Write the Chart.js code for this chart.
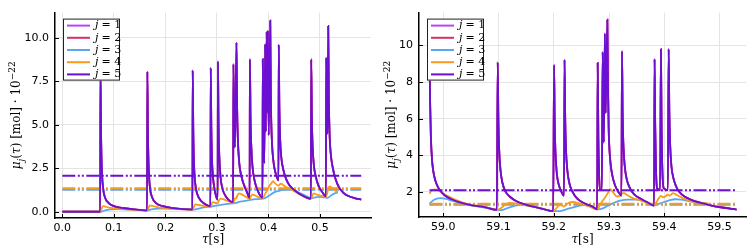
<!DOCTYPE html>
<html>
<head>
<meta charset="utf-8">
<script src="https://cdn.jsdelivr.net/npm/chart.js@4.4.1/dist/chart.umd.min.js"></script>
<style>
  body { margin: 0; background: #fff; }
  #wrap { position: relative; width: 753px; height: 250px; }
  #left { position: absolute; left: 0; top: 0; }
  #right { position: absolute; left: 375px; top: 0; }
</style>
</head>
<body>
<div id="wrap">
  <canvas id="left" width="375" height="250"></canvas>
  <canvas id="right" width="378" height="250"></canvas>
</div>
<script>
// series names and colours
const seriesNames = ['1', '2', '3', '4', '5'];
const seriesColors = ['#bd43f2', '#d5335f', '#58a6f6', '#f99b1a', '#6a0fd3'];

// tick labels
const leftXTicks = [0, 0.1, 0.2, 0.3, 0.4, 0.5];
const leftYTicks = [0, 2.5, 5, 7.5, 10];
const rightXTicks = [59.0, 59.1, 59.2, 59.3, 59.4, 59.5];
const rightYTicks = [2, 4, 6, 8, 10];

// left panel: [tau, mu]
const leftJ5 = [
  [0,0],[0.0735,0],[0.074,8.2],[0.0752,4.5],[0.0765,2.6],[0.079,1.4],[0.083,0.8],[0.09,0.5],[0.1,0.32],[0.12,0.2],[0.14,0.13],[0.1645,0.08],
  [0.165,8.05],[0.1662,4.4],[0.1675,2.6],[0.17,1.4],[0.174,0.85],[0.182,0.5],[0.195,0.32],[0.215,0.21],[0.235,0.15],[0.2525,0.12],
  [0.253,8.12],[0.2542,4.6],[0.2555,2.8],[0.258,1.6],[0.262,1.0],[0.27,0.6],[0.28,0.38],[0.2875,0.32],
  [0.288,8.26],[0.2892,4.8],[0.2905,3.0],[0.293,1.8],[0.297,1.05],[0.3015,0.7],
  [0.302,8.63],[0.3032,5.0],[0.3045,3.3],[0.307,2.0],[0.311,1.3],[0.318,0.85],[0.3315,0.55],
  [0.332,8.48],[0.3335,5.0],[0.335,3.7],[0.338,9.72],[0.3392,6.0],[0.3405,4.3],[0.343,2.9],[0.347,2.1],[0.353,1.5],[0.358,1.15],[0.3635,0.8],
  [0.364,8.76],[0.3652,5.5],[0.3665,3.9],[0.369,2.6],[0.373,1.8],[0.378,1.3],[0.3885,0.8],
  [0.389,8.76],[0.3902,5.0],[0.392,2.8],[0.3935,9.63],[0.395,4.6],[0.3965,10.33],[0.398,5.7],[0.399,10.4],[0.4005,4.4],[0.4035,10.98],
  [0.4047,6.5],[0.406,4.6],[0.408,3.4],[0.411,2.6],[0.415,2.1],[0.4195,1.8],
  [0.420,9.6],[0.4212,6.0],[0.4225,4.3],[0.425,3.1],[0.429,2.4],[0.434,1.9],[0.44,1.55],[0.45,1.25],[0.465,0.95],[0.4825,0.75],
  [0.483,8.76],[0.4842,5.5],[0.4855,3.9],[0.488,2.7],[0.492,2.0],[0.497,1.5],[0.504,1.15],[0.5115,0.88],
  [0.512,8.85],[0.5135,5.0],[0.515,4.5],[0.516,10.67],[0.5172,6.5],[0.5185,4.6],[0.521,3.3],[0.525,2.5],[0.53,1.9],[0.537,1.4],
  [0.545,1.1],[0.555,0.9],[0.57,0.76],[0.58,0.7]
];
const leftJ4 = [
  [0,0],[0.074,0],[0.0765,0.2],[0.079,0.32],[0.083,0.3],[0.09,0.24],[0.1,0.2],[0.12,0.15],[0.14,0.11],[0.165,0.08],
  [0.1675,0.25],[0.17,0.36],[0.174,0.33],[0.182,0.28],[0.195,0.22],[0.215,0.18],[0.235,0.14],[0.253,0.12],
  [0.2555,0.3],[0.258,0.42],[0.262,0.4],[0.27,0.36],[0.28,0.3],[0.288,0.3],
  [0.2905,0.5],[0.293,0.55],[0.298,0.5],[0.302,0.5],
  [0.3045,0.68],[0.307,0.75],[0.312,0.72],[0.32,0.62],[0.332,0.52],
  [0.335,0.75],[0.338,0.8],[0.3405,0.98],[0.343,1.05],[0.348,1.0],[0.355,0.88],[0.364,0.75],
  [0.3665,0.92],[0.369,1.0],[0.373,0.95],[0.38,0.85],[0.389,0.78],
  [0.393,1.0],[0.397,1.2],[0.401,1.45],[0.405,1.6],[0.409,1.75],[0.414,1.6],[0.42,1.5],[0.424,1.62],[0.428,1.55],[0.435,1.4],[0.445,1.26],[0.46,1.0],[0.483,0.75],
  [0.4855,0.95],[0.488,1.05],[0.493,1.0],[0.5,0.92],[0.512,0.88],
  [0.515,1.2],[0.518,1.45],[0.523,1.38],[0.53,1.2],[0.535,1.12]
];
const leftJ3 = [
  [0,0],[0.075,0],[0.08,0.05],[0.09,0.12],[0.1,0.15],[0.12,0.14],[0.14,0.11],[0.165,0.08],[0.172,0.13],[0.185,0.18],[0.2,0.18],
  [0.225,0.15],[0.253,0.12],[0.26,0.15],[0.275,0.25],[0.29,0.3],[0.305,0.38],[0.32,0.45],[0.335,0.5],[0.345,0.58],[0.36,0.65],
  [0.375,0.72],[0.39,0.75],[0.4,0.9],[0.41,1.1],[0.42,1.2],[0.43,1.28],[0.44,1.3],[0.455,1.15],[0.47,0.95],[0.483,0.78],
  [0.49,0.82],[0.5,0.85],[0.51,0.82],[0.515,0.8],[0.522,0.95],[0.53,1.07],[0.535,1.1]
];
// time-averaged levels (j=3, j=4, j=5) and their span
const leftMeans = [1.26, 1.35, 2.07];
const leftSpan = [0, 0.58];

// right panel
const rightJ5 = [
  [58.975,9.5],[58.9762,6.8],[58.9775,5.0],[58.98,3.6],[58.984,2.8],[58.989,2.35],[58.995,2.05],[59.0025,1.82],[59.015,1.6],[59.027,1.46],[59.05,1.28],[59.075,1.17],[59.097,1.02],
  [59.0985,9.07],[59.0997,6.0],[59.101,4.4],[59.1035,3.2],[59.107,2.5],[59.113,2.0],[59.12,1.75],[59.135,1.45],[59.15,1.3],[59.165,1.18],[59.18,1.08],[59.199,0.95],
  [59.2005,8.93],[59.2017,5.8],[59.203,4.2],[59.2055,3.0],[59.209,2.4],[59.214,2.0],[59.2185,1.8],
  [59.2195,9.21],[59.2207,6.0],[59.222,4.4],[59.2245,3.2],[59.228,2.5],[59.234,2.0],[59.242,1.65],[59.255,1.38],[59.27,1.2],[59.2785,1.05],
  [59.2795,9.04],[59.2807,5.0],[59.282,3.0],[59.2835,2.1],[59.287,2.1],[59.2885,9.63],[59.2905,4.7],[59.2925,10.65],[59.294,6.3],[59.297,11.4],
  [59.2982,7.5],[59.2995,5.3],[59.302,3.8],[59.306,2.9],[59.311,2.35],[59.317,2.0],[59.3225,1.8],
  [59.3235,9.68],[59.3247,6.3],[59.326,4.6],[59.3285,3.4],[59.332,2.7],[59.338,2.2],[59.346,1.85],[59.359,1.6],[59.37,1.42],[59.3815,1.25],
  [59.3825,9.25],[59.3837,5.5],[59.385,3.3],[59.387,2.2],[59.3925,2.1],[59.394,9.8],[59.3952,5.5],[59.3965,3.3],[59.399,2.2],[59.4065,2.1],
  [59.408,9.8],[59.4092,6.4],[59.4105,4.7],[59.413,3.4],[59.417,2.7],[59.423,2.2],[59.432,1.85],[59.45,1.55],[59.48,1.3],[59.505,1.15],[59.531,1.04]
];
const rightJ4 = [
  [58.975,1.9],[58.98,2.12],[58.985,2.14],[58.993,2.05],[59.0,1.92],[59.01,1.75],[59.02,1.6],[59.035,1.42],[59.05,1.3],[59.075,1.18],[59.098,1.03],
  [59.101,1.05],[59.106,1.15],[59.112,1.3],[59.12,1.4],[59.13,1.38],[59.148,1.28],[59.165,1.18],[59.18,1.08],[59.2,0.95],
  [59.203,1.05],[59.207,1.2],[59.212,1.3],[59.218,1.2],[59.222,1.3],[59.228,1.42],[59.235,1.45],[59.245,1.38],[59.26,1.25],[59.279,1.05],
  [59.283,1.25],[59.288,1.5],[59.293,1.7],[59.298,1.95],[59.302,2.15],[59.308,1.95],[59.314,1.75],[59.32,1.8],[59.326,1.95],[59.332,1.85],[59.34,1.7],[59.355,1.55],[59.37,1.4],[59.382,1.28],
  [59.386,1.45],[59.39,1.65],[59.394,1.78],[59.398,1.7],[59.402,1.75],[59.406,1.85],[59.41,1.8],[59.416,1.93],[59.42,1.88],[59.428,1.75],[59.44,1.58],[59.455,1.45],[59.47,1.4],[59.48,1.36]
];
const rightJ3 = [
  [58.975,1.35],[58.98,1.5],[58.987,1.62],[58.995,1.66],[59.005,1.62],[59.015,1.52],[59.03,1.4],[59.05,1.27],[59.075,1.14],[59.098,1.02],
  [59.105,1.0],[59.115,1.1],[59.13,1.25],[59.14,1.3],[59.155,1.25],[59.175,1.12],[59.2,0.95],[59.21,0.95],[59.225,1.08],[59.24,1.2],
  [59.255,1.28],[59.265,1.22],[59.279,1.05],[59.29,1.12],[59.3,1.28],[59.31,1.42],[59.32,1.52],[59.335,1.58],[59.35,1.58],[59.365,1.5],
  [59.382,1.3],[59.39,1.35],[59.4,1.45],[59.41,1.55],[59.42,1.6],[59.43,1.58],[59.445,1.5],[59.46,1.42],[59.48,1.35]
];
const rightMeans = [1.3, 1.35, 2.09];
const rightSpan = [58.975, 59.531];

const SERIF = '"DejaVu Serif", serif';
const SANS = '"DejaVu Sans", sans-serif';
const meanDash = [13, 2.5, 2, 2, 2, 2.5];

function solid(pts, ci, order) {
  return {
    data: pts.map(p => ({ x: p[0], y: p[1] })),
    borderColor: seriesColors[ci], borderWidth: 1.8,
    pointRadius: 0, cubicInterpolationMode: 'monotone', fill: false, order
  };
}
function mean(level, span, ci, order) {
  return {
    data: span.map(t => ({ x: t, y: level })),
    borderColor: seriesColors[ci], borderWidth: 2, borderDash: meanDash,
    pointRadius: 0, fill: false, order
  };
}

// draws pieces of text with italic / sub / sup runs
function drawRich(ctx, parts, cx, cy, size) {
  const small = Math.round(size * 0.72);
  const fontOf = p => (p.it ? 'italic ' : '') + ((p.sub || p.sup) ? small : size) + 'px ' + SERIF;
  let w = 0;
  parts.forEach(p => { ctx.font = fontOf(p); w += ctx.measureText(p.t).width; });
  let x = cx - w / 2;
  ctx.textBaseline = 'middle';
  ctx.textAlign = 'left';
  parts.forEach(p => {
    ctx.font = fontOf(p);
    const dy = p.sub ? size * 0.35 : (p.sup ? -size * 0.4 : 0);
    ctx.fillText(p.t, x, cy + dy);
    x += ctx.measureText(p.t).width;
  });
}

const decor = {
  id: 'decor',
  afterDraw(chart) {
    const { ctx, chartArea: a, scales } = chart;
    ctx.save();
    // inward ticks
    ctx.strokeStyle = '#000';
    ctx.lineWidth = 1;
    ctx.beginPath();
    scales.x.ticks.forEach(t => {
      const x = Math.round(scales.x.getPixelForValue(t.value)) + 0.5;
      ctx.moveTo(x, a.bottom); ctx.lineTo(x, a.bottom - 4);
    });
    scales.y.ticks.forEach(t => {
      const y = Math.round(scales.y.getPixelForValue(t.value)) + 0.5;
      ctx.moveTo(a.left, y); ctx.lineTo(a.left + 4, y);
    });
    ctx.stroke();

    // legend
    const lx = a.left + 8, ly = a.top + 6, lw = 57, lh = 62;
    ctx.fillStyle = '#fff';
    ctx.fillRect(lx, ly, lw, lh);
    ctx.strokeStyle = '#222';
    ctx.strokeRect(lx + 0.5, ly + 0.5, lw - 1, lh - 1);
    seriesNames.forEach((n, i) => {
      const y = ly + 7 + i * 12.2;
      ctx.strokeStyle = seriesColors[i];
      ctx.lineWidth = 2;
      ctx.beginPath(); ctx.moveTo(lx + 4, y); ctx.lineTo(lx + 27, y); ctx.stroke();
      ctx.fillStyle = '#000';
      ctx.textBaseline = 'middle';
      ctx.textAlign = 'left';
      ctx.font = 'italic 11px ' + SERIF;
      ctx.fillText('j', lx + 32, y);
      ctx.font = '11px ' + SERIF;
      ctx.fillText(' = ' + n, lx + 35, y);
    });

    // axis titles
    ctx.fillStyle = '#000';
    drawRich(ctx, [{ t: 'τ', it: true }, { t: '[s]' }], (a.left + a.right) / 2, 240, 12);
    ctx.translate(17, (a.top + a.bottom) / 2);
    ctx.rotate(-Math.PI / 2);
    drawRich(ctx, [
      { t: 'μ', it: true }, { t: 'j', it: true, sub: true }, { t: '(' }, { t: 'τ', it: true },
      { t: ') [mol] · 10' }, { t: '−22', sup: true }
    ], 0, 0, 12);
    ctx.restore();
  }
};

function makeChart(id, sets, x, y, yWidth, xHeight, padRight, dec) {
  new Chart(document.getElementById(id), {
    type: 'line',
    data: { datasets: sets },
    options: {
      responsive: false, animation: false, devicePixelRatio: 1,
      layout: { padding: { top: 5, right: padRight, left: 0, bottom: 0 } },
      plugins: { legend: { display: false }, tooltip: { enabled: false } },
      scales: {
        x: {
          type: 'linear', min: x.min, max: x.max,
          afterBuildTicks: s => { s.ticks = x.ticks.map(v => ({ value: v })); },
          afterFit: s => { s.height = xHeight; },
          ticks: { callback: v => v.toFixed(1), font: { family: SANS, size: 11 }, color: '#000', padding: 4, maxRotation: 0 },
          grid: { color: '#e4e4e4', drawTicks: false },
          border: { color: '#000', width: 1.5 }
        },
        y: {
          min: y.min, max: y.max,
          afterBuildTicks: s => { s.ticks = y.ticks.map(v => ({ value: v })); },
          afterFit: s => { s.width = yWidth; },
          ticks: { callback: v => v.toFixed(dec), font: { family: SANS, size: 11 }, color: '#000', padding: 6 },
          grid: { color: '#e4e4e4', drawTicks: false },
          border: { color: '#000', width: 1.5 }
        }
      }
    },
    plugins: [decor]
  });
}

makeChart('left', [
  solid(leftJ5, 4, 0), mean(leftMeans[2], leftSpan, 4, 1),
  solid(leftJ4, 3, 2), mean(leftMeans[1], leftSpan, 3, 3),
  mean(leftMeans[0], leftSpan, 2, 4), solid(leftJ3, 2, 5),
  solid(leftJ5, 1, 6), solid(leftJ5, 0, 7)
], { min: -0.0142, max: 0.599, ticks: leftXTicks },
   { min: -0.36, max: 11.44, ticks: leftYTicks }, 55, 32, 4, 1);

makeChart('right', [
  solid(rightJ5, 4, 0), mean(rightMeans[2], rightSpan, 4, 1),
  solid(rightJ4, 3, 2), mean(rightMeans[1], rightSpan, 3, 3),
  mean(rightMeans[0], rightSpan, 2, 4), solid(rightJ3, 2, 5),
  solid(rightJ5, 1, 6), solid(rightJ5, 0, 7)
], { min: 58.956, max: 59.548, ticks: rightXTicks },
   { min: 0.632, max: 11.79, ticks: rightYTicks }, 44, 33, 7, 0);
</script>
</body>
</html>
